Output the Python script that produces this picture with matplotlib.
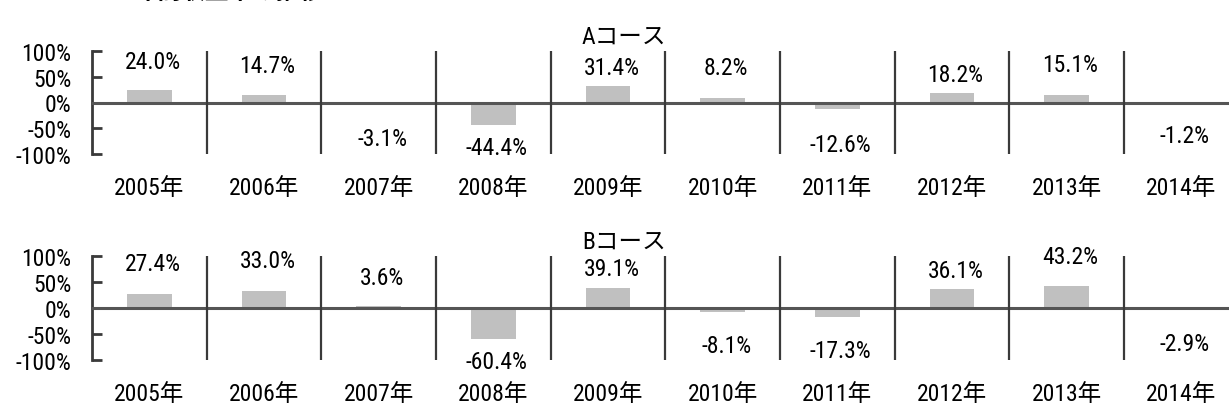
import matplotlib
matplotlib.use("Agg")
import matplotlib.pyplot as plt
from matplotlib import font_manager

years = ["2005年", "2006年", "2007年", "2008年", "2009年",
         "2010年", "2011年", "2012年", "2013年", "2014年"]
course_a = [24.0, 14.7, -3.1, -44.4, 31.4, 8.2, -12.6, 18.2, 15.1, -1.2]
course_b = [27.4, 33.0, 3.6, -60.4, 39.1, -8.1, -17.3, 36.1, 43.2, -2.9]
title_a = "Aコース"
title_b = "Bコース"
main_title = "年間収益率の推移"
ytick_vals = [100, 50, 0, -50, -100]
ytick_labels = ["100%", "50%", "0%", "-50%", "-100%"]

# label placement (style, not data)
label_y_a = [79.6, 71.8, -69.9, -87.4, 68, 68, -81.6, 54.4, 73.8, -64]
label_y_b = [86.4, 91, 58, -103, 75.7, -71.8, -81.6, 73, 99, -68]

fonts = font_manager.fontManager.ttflist
names = {f.name for f in fonts}
if "Liberation Sans Narrow" in names:
    base, fs = "Liberation Sans Narrow", 16.5
elif "Roboto Condensed" in names:
    base, fs = "Roboto Condensed", 17
else:
    base, fs = "DejaVu Sans", 14
plt.rcParams["font.family"] = [base, "Noto Sans CJK JP", "DejaVu Sans"]

W, H = 1229, 410
fig = plt.figure(figsize=(W / 100, H / 100), dpi=100)

left = 92 / W
width = (1238.6 - 92) / W
panels = [
    (course_a, label_y_a, title_a, 52, 155, 37),
    (course_b, label_y_b, title_b, 257, 361, 242),
]
n = len(years)
xs = list(range(n))
line_col = "#3a3a3a"
for vals, ly, ttl, ytop, ybot, ty in panels:
    ax = fig.add_axes([left, 1 - ybot / H, width, (ybot - ytop) / H])
    ax.set_xlim(-0.5, n - 0.5)
    ax.set_ylim(-100, 100)
    ax.bar(xs, vals, width=0.39, color="#c0c0c0", zorder=2)
    ax.axhline(0, color="#555555", lw=2.2, zorder=3)
    ax.vlines([i + 0.5 for i in range(n - 1)], -100, 100, color=line_col, lw=1.6, zorder=3)
    for sp in ["top", "right", "bottom"]:
        ax.spines[sp].set_visible(False)
    ax.spines["left"].set_color(line_col)
    ax.spines["left"].set_linewidth(2)
    ax.set_yticks(ytick_vals)
    ax.set_yticklabels(ytick_labels)
    ax.tick_params(axis="y", direction="in", length=7, width=2, color=line_col,
                   pad=15, labelsize=fs)
    ax.set_xticks(xs)
    ax.set_xticklabels(years)
    ax.tick_params(axis="x", length=0, pad=16, labelsize=fs)
    for x, v, y in zip(xs, vals, ly):
        ax.text(x + 0.03, y, f"{v:.1f}%", ha="center", va="center", fontsize=fs,
                clip_on=False, zorder=4)
    fig.text(624 / W, 1 - ty / H, ttl, ha="center", va="center", fontsize=fs)

fig.text(229 / W, 1 + 8 / H, main_title, ha="center", va="center",
         fontsize=17, fontweight="bold")

fig.savefig("out.png", dpi=100)
